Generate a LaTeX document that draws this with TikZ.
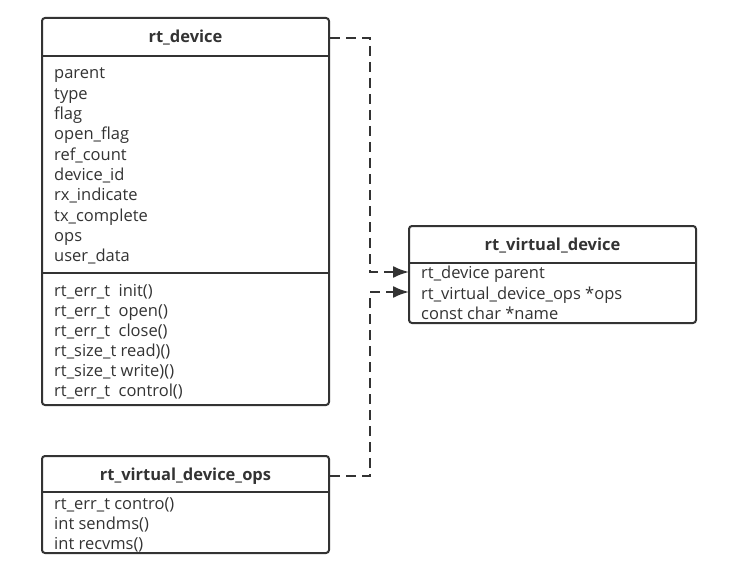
\documentclass[tikz,border=0pt]{standalone}
\usepackage{fontspec}
\setmainfont{Open Sans}
\usetikzlibrary{arrows.meta}
\definecolor{ink}{HTML}{333333}
\tikzset{
  box/.style={draw=ink, line width=2pt, rounded corners=3pt},
  sep/.style={draw=ink, line width=1.6pt},
  title/.style={font=\fontsize{16.5}{18}\selectfont\bfseries, text=ink, inner sep=0pt, anchor=base},
  item/.style={font=\fontsize{16.5}{18}\selectfont, text=ink, anchor=base west, inner sep=0pt},
  link/.style={draw=ink, line width=2pt, dash pattern=on 10pt off 6pt, -{Latex[length=16pt,width=12pt]}},
}
\begin{document}
\begin{tikzpicture}[x=1pt,y=-1pt]
\useasboundingbox (0,0) rectangle (730,580);
% rt_device
\draw[box] (42,18) rectangle (329,405);
\draw[sep] (42,56) -- (329,56);
\draw[sep] (42,273) -- (329,273);
\node[title] (t1) at (185.5,43) {rt\_device};
\foreach \t [count=\i from 0] in {parent,type,flag,open\_flag,ref\_count,device\_id,rx\_indicate,tx\_complete,ops,user\_data}
  \node[item] (a\i) at (54,79+20.3*\i) {\t};
\node[item] (m0) at (54,296) {rt\_err\_t\ \ init()};
\node[item] (m1) at (54,316) {rt\_err\_t\ \ open()};
\node[item] (m2) at (54,336) {rt\_err\_t\ \ close()};
\node[item] (m3) at (54,356) {rt\_size\_t read)()};
\node[item] (m4) at (54,376) {rt\_size\_t write)()};
\node[item] (m5) at (54,396) {rt\_err\_t\ \ control()};
% rt_virtual_device
\draw[box] (409,226) rectangle (696,323);
\draw[sep] (409,263) -- (696,263);
\node[title] (t2) at (552.5,250) {rt\_virtual\_device};
\node[item] (v0) at (421,278.5) {rt\_device parent};
\node[item] (v1) at (421,299) {rt\_virtual\_device\_ops *ops};
\node[item] (v2) at (421,319) {const char *name};
% rt_virtual_device_ops
\draw[box] (42,456) rectangle (329,553);
\draw[sep] (42,492) -- (329,492);
\node[title] (t3) at (185.5,480) {rt\_virtual\_device\_ops};
\node[item] (o0) at (54,509) {rt\_err\_t contro()};
\node[item] (o1) at (54,529) {int sendms()};
\node[item] (o2) at (54,549) {int recvms()};
% connection points
\coordinate (s1) at (330,38);
\coordinate (e1) at (409,272);
\coordinate (s2) at (330,476);
\coordinate (e2) at (409,292);
\draw[link] (s1) -- (370,38) -- (370,272) -- (e1);
\draw[link] (s2) -- (370,476) -- (370,292) -- (e2);
\end{tikzpicture}
\end{document}
